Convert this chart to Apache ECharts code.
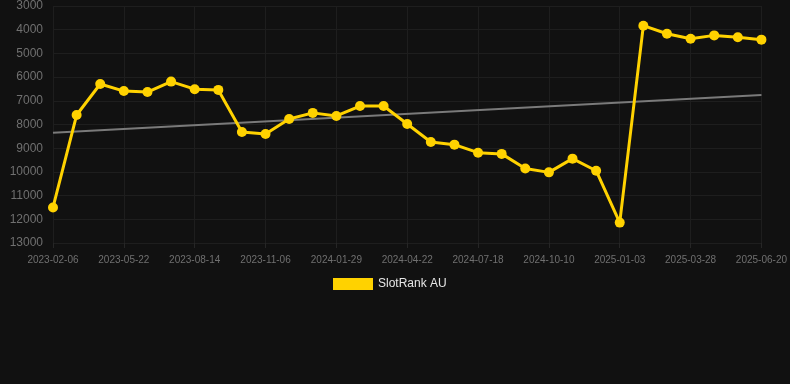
<!DOCTYPE html>
<html>
<head>
<meta charset="utf-8">
<script src="https://cdn.jsdelivr.net/npm/echarts@6/dist/echarts.min.js"></script>
<style>
html,body{margin:0;padding:0;background:#111111;}
#c{width:790px;height:384px;}
</style>
</head>
<body>
<div id="c"></div>
<script>
const categories = [
  '2023-02-06','2023-03-13','2023-04-17','2023-05-22','2023-06-19','2023-07-17',
  '2023-08-14','2023-09-11','2023-10-09','2023-11-06','2023-12-04','2024-01-01',
  '2024-01-29','2024-02-26','2024-03-25','2024-04-22','2024-05-20','2024-06-17',
  '2024-07-18','2024-08-15','2024-09-12','2024-10-10','2024-11-07','2024-12-05',
  '2025-01-03','2025-01-31','2025-02-28','2025-03-28','2025-04-25','2025-05-23',
  '2025-06-20'
];
const rankValues = [
  11500, 7600, 6290, 6590, 6630, 6190, 6510, 6540, 8320, 8400, 7770,
  7510, 7640, 7220, 7220, 7980, 8740, 8850, 9190, 9240, 9860, 10020,
  9440, 9950, 12140, 3830, 4170, 4380, 4240, 4320, 4420
];
const trendStart = 8345;
const trendEnd = 6755;
const yMin = 3000, yMax = 13000, yStep = 1000;
const seriesName = 'SlotRank AU';

const trendData = categories.map((c, i) => i === 0 ? trendStart : (i === categories.length - 1 ? trendEnd : null));

const chart = echarts.init(document.getElementById('c'), null, {renderer: 'canvas'});
chart.setOption({
  backgroundColor: '#111111',
  animation: false,
  grid: {left: 53, right: 28, top: 6, bottom: 141},
  legend: {
    data: [seriesName],
    top: 273,
    left: 328,
    itemWidth: 40,
    itemHeight: 12,
    itemGap: 10,
    icon: 'rect',
    textStyle: {color: '#e6e6e6', fontSize: 12, fontFamily: 'Arial, Liberation Sans, sans-serif'}
  },
  xAxis: {
    type: 'category',
    data: categories,
    boundaryGap: false,
    axisLine: {show: false},
    axisTick: {show: true, interval: 2, lineStyle: {color: '#262626'}},
    axisLabel: {interval: 2, color: '#707070', fontSize: 10, margin: 12, fontFamily: 'Arial, Liberation Sans, sans-serif'},
    splitLine: {show: true, interval: 2, lineStyle: {color: '#1e1e1e'}}
  },
  yAxis: {
    type: 'value',
    inverse: true,
    min: yMin,
    max: yMax,
    interval: yStep,
    axisLine: {show: false},
    axisTick: {show: false},
    axisLabel: {color: '#707070', fontSize: 12, margin: 10, fontFamily: 'Arial, Liberation Sans, sans-serif', formatter: v => String(v)},
    splitLine: {show: true, lineStyle: {color: '#1e1e1e'}}
  },
  series: [
    {
      name: seriesName,
      type: 'line',
      data: rankValues,
      symbol: 'circle',
      symbolSize: 10,
      itemStyle: {color: '#ffd200'},
      lineStyle: {color: '#ffd200', width: 3},
      z: 3
    },
    {
      name: 'trend',
      type: 'line',
      data: trendData,
      connectNulls: true,
      symbol: 'none',
      lineStyle: {color: '#7a7a7a', width: 2},
      itemStyle: {color: '#7a7a7a'},
      z: 2
    }
  ]
});
</script>
</body>
</html>
